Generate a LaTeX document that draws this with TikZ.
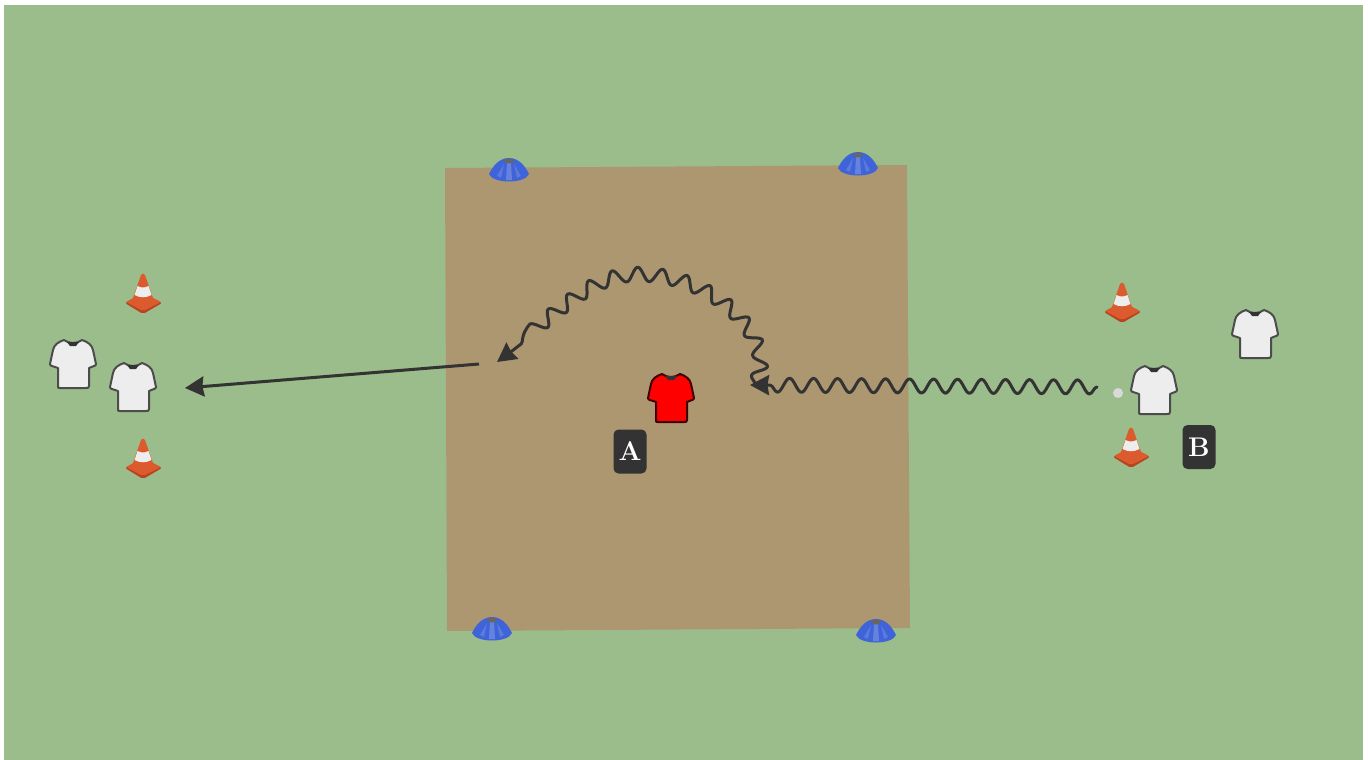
\documentclass[tikz,border=0pt]{standalone}
\usetikzlibrary{arrows.meta,decorations.pathmorphing,shapes.geometric}
\definecolor{grass}{HTML}{9ABD8B}
\definecolor{dirt}{HTML}{AD9770}
\definecolor{ink}{HTML}{333333}
\definecolor{conered}{HTML}{DB5A2E}
\definecolor{conedark}{HTML}{B8431F}
\definecolor{dishblue}{HTML}{3F63D8}
\tikzstyle{tag} = [rectangle, rounded corners=5pt, fill=ink, text=white, minimum width=33pt, minimum height=44pt, inner sep=0, font=\fontsize{27}{27}\selectfont\bfseries]
\tikzstyle{arrow} = [ink,line width=3pt,-{Stealth[length=19pt,width=20pt,inset=1.5pt]}]
\tikzstyle{wavy} = [arrow,line cap=round,line join=round,decorate,decoration={snake,amplitude=7pt,segment length=24pt,post length=20pt}]
\tikzset{
  shirt/.pic={
    \draw[pic actions,line width=2pt,line join=round]
      (-9,-24) .. controls (-4,-20) and (4,-20) .. (9,-24)
      .. controls (15,-22) and (19,-19) .. (20,-14)
      -- (23,0) .. controls (23,1) and (22,2) .. (21,2) -- (16,4) -- (16,22)
      .. controls (16,24) and (15,24) .. (13,24)
      -- (-13,24)
      .. controls (-15,24) and (-15,24) .. (-15,22)
      -- (-15,4) -- (-21,2) .. controls (-22,2) and (-23,1) .. (-23,0) -- (-20,-14)
      .. controls (-19,-19) and (-15,-22) .. (-9,-24) -- cycle;
    \fill[black!80] (-6,-22)--(6,-22)--(3,-18)--(-3,-18)--cycle;
  },
  cone/.pic={
    \fill[conedark,rounded corners=2pt] (-18,3)--(0,-7)--(19,3)--(0,14)--cycle;
    \fill[conered,rounded corners=2pt] (-17,2)--(0,-7)--(18,2)--(0,11)--cycle;
    \fill[conered] (-2,-25) .. controls (-1,-27) and (1,-27) .. (2,-25) -- (11,1) .. controls (5,6) and (-5,6) .. (-11,1) -- cycle;
    \fill[white!93!black] (-5.5,-14) .. controls (-2,-12) and (2,-12) .. (5.5,-14) -- (8.5,-5) .. controls (3,-2) and (-3,-2) .. (-8.5,-5) -- cycle;
  },
  dish/.pic={
    \fill[dishblue] (-20,3) .. controls (-17,-3) and (-11,-13) .. (0,-13) .. controls (11,-13) and (17,-3) .. (20,3) .. controls (16,13) and (-16,13) .. (-20,3) -- cycle;
    \fill[white,opacity=.2] (-2,-8)--(2,-8)--(3,9)--(-3,9)--cycle;
    \fill[white,opacity=.15] (-5,-7)--(-12,5)--(-8,7)--cycle;
    \fill[white,opacity=.15] (5,-7)--(12,5)--(8,7)--cycle;
    \fill[black!60] (0,-10) ellipse (5 and 2.5);
  }
}
\begin{document}
\begin{tikzpicture}[x=1pt,y=-1pt]
\useasboundingbox (0,0) rectangle (1368,760);
\fill[white] (0,0) rectangle (1368,760);
\fill[grass] (4,5) rectangle (1363,760);
\fill[dirt] (445,168)--(907,165)--(910,628)--(447,631)--cycle;

\foreach \x/\y in {509/171,858/165,492/630,876/632}{
	\draw (\x,\y) pic{dish};}
\foreach \x/\y in {143/300,143/465,1122/309,1131/454}{
	\draw (\x,\y) pic{cone};}
\foreach \x/\y in {73/364,133/387,1154/390,1255/334}{
	\draw (\x,\y) pic[draw=black!70,fill=white!93!black]{shirt};}
\draw (671,398) pic[draw=black!75!red,fill=red]{shirt};

\fill[white!85!black] (1118,393) circle (5);

\node[tag] (tagA) at (630,451.5) {A};
\node[tag] (tagB) at (1199,447) {B};

\coordinate (dribbleStart) at (1097,387);
\coordinate (dribbleEnd) at (750,385);
\coordinate (curveStart) at (755,385);
\coordinate (curveTop) at (635,280);
\coordinate (curveEnd) at (497,362);
\coordinate (passStart) at (479,364);
\coordinate (passEnd) at (185,388);

\draw[wavy] (dribbleStart)--(dribbleEnd);
\draw[wavy] (curveStart) .. controls (772,345) and (715,280) .. (curveTop) .. controls (585,280) and (550,325) .. (curveEnd);
\draw[arrow] (passStart)--(passEnd);
\end{tikzpicture}
\end{document}
